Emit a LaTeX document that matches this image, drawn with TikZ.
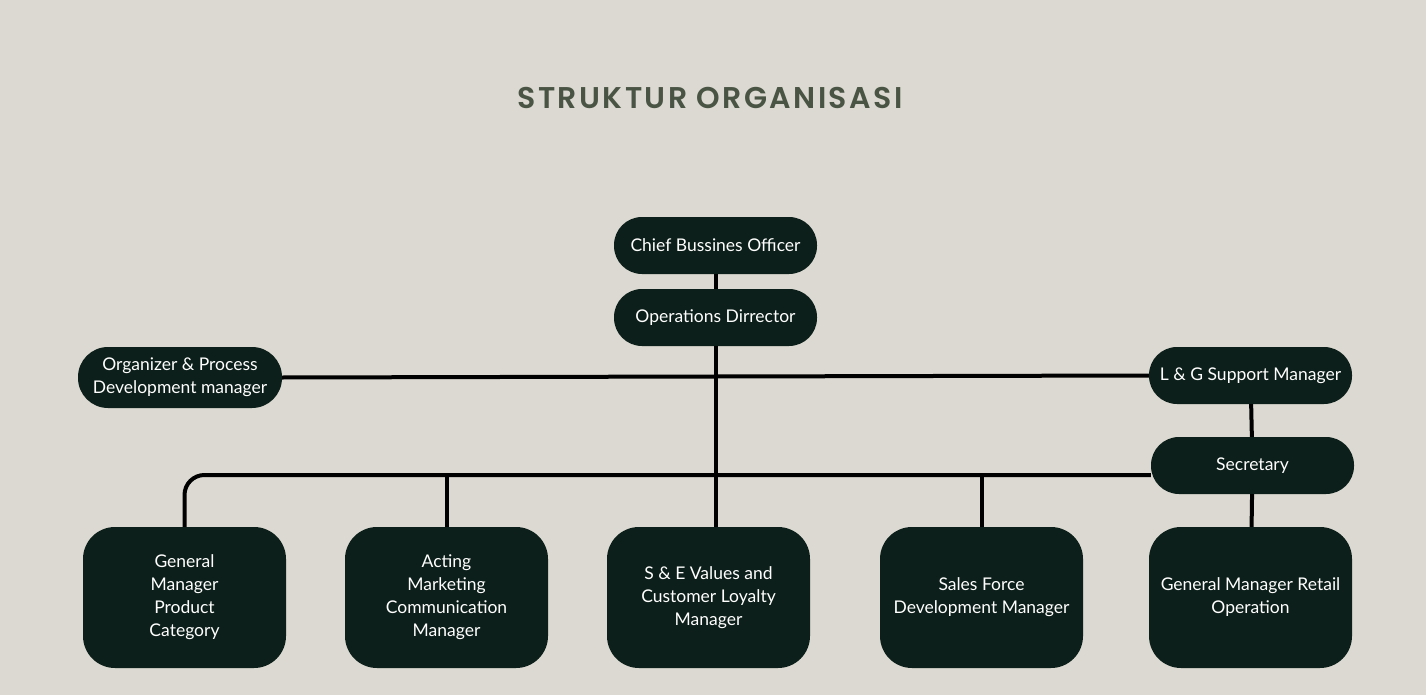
\documentclass[tikz,border=0pt]{standalone}
\usepackage{fontspec}
\setmainfont{Lato}
\newfontfamily\titlefont[LetterSpace=8]{Poppins SemiBold}
\usetikzlibrary{positioning}

\definecolor{bgcol}{HTML}{DBD9D1}
\definecolor{boxcol}{HTML}{0D1F1A}
\definecolor{titlecol}{HTML}{4A5444}

\tikzset{
  pill/.style={fill=boxcol, text=white, rounded corners=28pt, minimum width=203pt,
    minimum height=57pt, align=center, inner sep=0pt,
    font=\fontsize{17.5}{23}\selectfont},
  bigbox/.style={pill, rounded corners=32pt, minimum height=141pt},
  link/.style={line width=4pt, black}
}

\begin{document}
\begin{tikzpicture}[x=1pt,y=-1pt]
\fill[bgcol] (0,0) rectangle (1426,695);
\useasboundingbox (0,0) rectangle (1426,695);

\node[text=titlecol, font=\titlefont\fontsize{30}{36}\selectfont] (title) at (710,98) {STRUKTUR ORGANISASI};

% top of the chart
\node[pill] (cbo) at (715.5,245.5) {Chief Bussines Officer};
\node[pill] (od) at (715.5,317.5) {Operations Dirrector};
\node[pill, minimum width=204pt, minimum height=61pt, rounded corners=30pt] (opd) at (180,377.5) {Organizer \& Process\\Development manager};
\node[pill] (lg) at (1250.5,375.5) {L \& G Support Manager};
\node[pill] (sec) at (1252.5,465.5) {Secretary};

% bottom row
\node[bigbox] (gmp) at (184.5,597.5) {General\\Manager\\Product\\Category};
\node[bigbox] (amc) at (446.5,597.5) {Acting\\Marketing\\Communication\\Manager};
\node[bigbox] (se) at (708.5,597.5) {S \& E Values and\\Customer Loyalty\\Manager};
\node[bigbox] (sfd) at (981.5,597.5) {Sales Force\\Development Manager};
\node[bigbox] (gmr) at (1250.5,597.5) {General Manager Retail\\Operation};

\coordinate (bar) at (715.5,475);

% connectors
\draw[link] (cbo) -- (od);
\draw[link] (opd.east) -- (lg.west);
\draw[link] (od.south) -- (od.south |- se.north);
\draw[link, rounded corners=20pt] (gmp.north) |- (bar) -- (bar -| sec.west);
\draw[link] (amc.north) -- (amc.north |- bar);
\draw[link] (sfd.north) -- (sfd.north |- bar);
\draw[link] (lg) -- (sec);
\draw[link] (sec) -- (gmr);
\end{tikzpicture}
\end{document}
